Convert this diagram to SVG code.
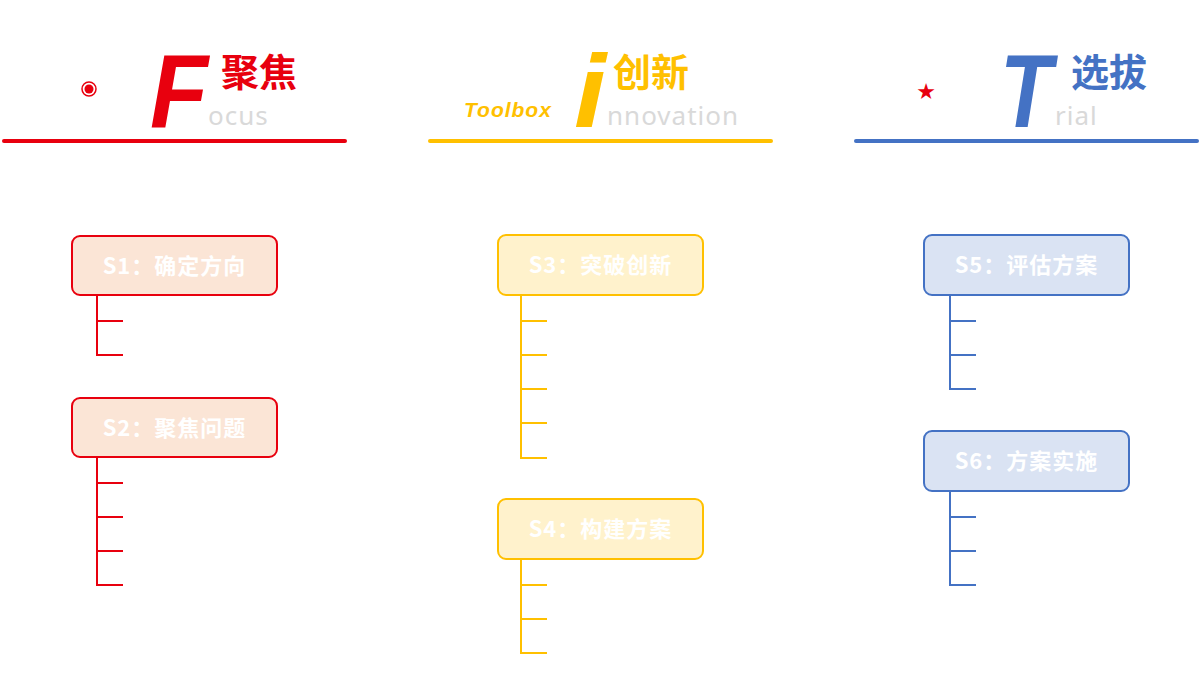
<svg xmlns="http://www.w3.org/2000/svg" width="1200" height="679" viewBox="0 0 1200 679">
<style>
.big{font-family:"Liberation Sans",Arial,sans-serif;font-weight:bold;font-style:italic;font-size:104px}
.cn{font-family:"Noto Sans CJK SC",sans-serif;font-weight:bold;font-size:38px}
.en{font-family:"Noto Sans","Liberation Sans",sans-serif;font-size:26px;fill:#d9d9d9;letter-spacing:1px}
.lbl{font-family:"Noto Sans CJK SC",sans-serif;font-weight:bold;font-size:22px;fill:#fff;text-anchor:middle;letter-spacing:1px}
.r{stroke:#e8000e;fill:none;stroke-width:2}
.y{stroke:#ffc000;fill:none;stroke-width:2}
.b{stroke:#4472c4;fill:none;stroke-width:2}
.fr{fill:#fbe5d6}.fy{fill:#fff2cc}.fb{fill:#dae3f3}
</style>
<rect width="1200" height="679" fill="#fff"/>
<g id="header-F">
<circle cx="89" cy="89" r="7" fill="none" stroke="#e8000e" stroke-width="1.5"/><circle cx="89" cy="89" r="4.5" fill="#e8000e"/>
<text x="150" y="127" class="big" fill="#e8000e" textLength="58" lengthAdjust="spacingAndGlyphs">F</text>
<text x="221" y="86" class="cn" fill="#e8000e">聚焦</text>
<text x="208" y="125" class="en">ocus</text>
<line x1="4" y1="141" x2="345" y2="141" stroke="#e8000e" stroke-width="4" stroke-linecap="round"/>
</g>
<g id="header-I">
<text x="464" y="117" font-family="Liberation Sans,sans-serif" font-weight="bold" font-style="italic" font-size="21" fill="#ffc000" letter-spacing="1">Toolbox</text>
<text x="574" y="127" class="big" fill="#ffc000" textLength="32" lengthAdjust="spacingAndGlyphs">i</text>
<text x="613" y="86" class="cn" fill="#ffc000">创新</text>
<text x="607" y="125" class="en">nnovation</text>
<line x1="430" y1="141" x2="771" y2="141" stroke="#ffc000" stroke-width="4" stroke-linecap="round"/>
</g>
<g id="header-T">
<text x="926" y="99" font-family="DejaVu Sans,sans-serif" font-size="22" fill="#e8000e" text-anchor="middle">★</text>
<text x="1000" y="127" class="big" fill="#4472c4" textLength="52" lengthAdjust="spacingAndGlyphs">T</text>
<text x="1071" y="86" class="cn" fill="#4472c4">选拔</text>
<text x="1055" y="125" class="en">rial</text>
<line x1="856" y1="141" x2="1197" y2="141" stroke="#4472c4" stroke-width="4" stroke-linecap="round"/>
</g>
<g id="node-S1"><rect x="72" y="236" width="205" height="59" rx="8" class="r fr"/><text x="174.5" y="274" class="lbl">S1：确定方向</text></g>
<g id="node-S2"><rect x="72" y="398" width="205" height="59" rx="8" class="r fr"/><text x="174.5" y="436" class="lbl">S2：聚焦问题</text></g>
<g id="node-S3"><rect x="498" y="235" width="205" height="60" rx="8" class="y fy"/><text x="600.5" y="273" class="lbl">S3：突破创新</text></g>
<g id="node-S4"><rect x="498" y="499" width="205" height="60" rx="8" class="y fy"/><text x="600.5" y="537" class="lbl">S4：构建方案</text></g>
<g id="node-S5"><rect x="924" y="235" width="205" height="60" rx="8" class="b fb"/><text x="1026.5" y="273" class="lbl">S5：评估方案</text></g>
<g id="node-S6"><rect x="924" y="431" width="205" height="60" rx="8" class="b fb"/><text x="1026.5" y="469" class="lbl">S6：方案实施</text></g>
<g id="connectors">
<path class="r" d="M97 295V355H123M97 321H123"/>
<path class="r" d="M97 457V585H123M97 483H123M97 517H123M97 551H123"/>
<path class="y" d="M521 295V458H547M521 321H547M521 355H547M521 389H547M521 423H547"/>
<path class="y" d="M521 559V653H547M521 585H547M521 619H547"/>
<path class="b" d="M950 295V389H976M950 321H976M950 355H976"/>
<path class="b" d="M950 491V585H976M950 517H976M950 551H976"/>
</g>
</svg>
